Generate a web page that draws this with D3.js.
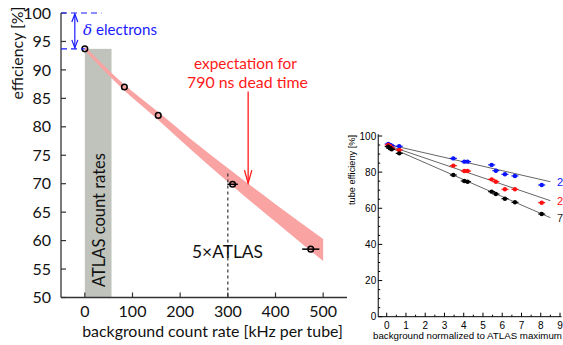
<!DOCTYPE html>
<html><head><meta charset="utf-8">
<script src="https://cdn.jsdelivr.net/npm/d3@7"></script>
<style>body{margin:0;background:#fff}svg{display:block}</style>
</head><body>
<script>
// ---------- main chart data ----------
const rate = [0, 83, 154, 310, 474];             // kHz per tube
const eff = [93.7, 87.0, 82.0, 69.9, 58.5];      // efficiency %
const rateErr = [0, 0, 0, 11, 18];
const bandX = [0, 80, 154, 220, 310, 400, 500];
const bandUpper = [94.1, 87.6, 82.6, 78.0, 72.1, 66.4, 60.3];
const bandLower = [93.4, 86.6, 81.2, 76.2, 69.6, 63.3, 56.4];
const atlasBand = [0, 56];
const atlasTop = 93.7;
const xTicks = [0, 100, 200, 300, 400, 500];
const yTicks = [50, 55, 60, 65, 70, 75, 80, 85, 90, 95, 100];

// ---------- inset data ----------
const insetX = [0.08, 0.17, 0.26, 0.65, 3.46, 4.03, 4.2, 5.45, 5.67, 6.14, 6.66, 8.05];
const insetBlue = [95.6, 95.0, 94.6, 94.3, 87.6, 85.8, 85.8, 84.0, 80.8, 78.8, 77.9, 72.9];
const insetRed = [95.0, 94.3, 93.2, 92.3, 83.6, 80.6, 80.6, 76.0, 74.7, 70.5, 70.5, 63.1];
const insetBlack = [94.1, 93.2, 92.6, 90.4, 78.4, 75.1, 74.7, 69.2, 67.9, 65.3, 63.3, 56.8];
const fitX = [0, 8.5];
const fitBlue = [95.5, 74.7];
const fitRed = [95.0, 64.2];
const fitBlack = [94.5, 54.8];
const insetXTicks = [0,1,2,3,4,5,6,7,8,9];
const insetYTicks = [0,20,40,60,80,100];
const seriesLabels = ["2", "2", "7"];

const W = 563, H = 345;
const svg = d3.select("body").append("svg").attr("width", W).attr("height", H);
const F = "Lato, 'Open Sans', sans-serif";

function fit(sel, w) {
  const L = sel.node().getComputedTextLength();
  const fs = +sel.attr("font-size");
  if (L > 0) sel.attr("font-size", fs * w / L);
  return sel;
}

// ===== MAIN =====
const x = d3.scaleLinear([-50, 550], [61, 347]);
const y = d3.scaleLinear([50, 100], [297.5, 13]);
const g = svg.append("g");

// atlas band
g.append("rect").attr("x", x(atlasBand[0])).attr("width", x(atlasBand[1]) - x(atlasBand[0]))
  .attr("y", y(atlasTop)).attr("height", y(50) - y(atlasTop)).attr("fill", "#bfc3bc");
fit(g.append("text").attr("transform", `translate(99,220) rotate(-90)`).attr("dy", "0.35em")
  .attr("text-anchor", "middle").attr("font-family", F).attr("font-size", 18).attr("fill", "#111")
  .text("ATLAS count rates"), 134);

// expectation band
const area = d3.area().x((d, i) => x(bandX[i])).y0((d, i) => y(bandLower[i])).y1((d, i) => y(bandUpper[i])).curve(d3.curveMonotoneX);
g.append("path").attr("d", area(bandX)).attr("fill", "#f9a3a3");

// dashed vertical at 300
g.append("line").attr("x1", x(300)).attr("x2", x(300)).attr("y1", y(71.8)).attr("y2", y(50))
  .attr("stroke", "#333").attr("stroke-width", 1.2).attr("stroke-dasharray", "3,3");
fit(g.append("text").attr("x", 227.5).attr("y", 252).attr("dy", "0.35em").attr("text-anchor", "middle")
  .attr("font-family", F).attr("font-size", 16).attr("fill", "#111").text("5×ATLAS"), 71);

// axes
const ax = "#333";
g.append("line").attr("x1", x(-50)).attr("x2", x(-50)).attr("y1", y(100)).attr("y2", y(50)).attr("stroke", ax).attr("stroke-width", 1.3);
g.append("line").attr("x1", x(-50)).attr("x2", x(550)).attr("y1", y(50)).attr("y2", y(50)).attr("stroke", ax).attr("stroke-width", 1.3);
yTicks.forEach(t => {
  g.append("line").attr("x1", x(-50)).attr("x2", x(-50) + 5).attr("y1", y(t)).attr("y2", y(t)).attr("stroke", ax).attr("stroke-width", 1.2);
  g.append("text").attr("x", 51).attr("y", y(t)).attr("dy", "0.35em").attr("text-anchor", "end")
    .attr("font-family", F).attr("font-size", 16).attr("fill", "#111").text(t);
});
xTicks.forEach(t => {
  g.append("line").attr("x1", x(t)).attr("x2", x(t)).attr("y1", y(50)).attr("y2", y(50) - 5).attr("stroke", ax).attr("stroke-width", 1.2);
  g.append("text").attr("x", x(t)).attr("y", 311).attr("dy", "0.35em").attr("text-anchor", "middle")
    .attr("font-family", F).attr("font-size", 16).attr("fill", "#111").text(t);
});
fit(g.append("text").attr("x", 212.5).attr("y", 331.5).attr("dy", "0.35em").attr("text-anchor", "middle")
  .attr("font-family", F).attr("font-size", 16).attr("fill", "#111").text("background count rate [kHz per tube]"), 261);
fit(g.append("text").attr("transform", "translate(17,53) rotate(-90)").attr("dy", "0.35em").attr("text-anchor", "middle")
  .attr("font-family", F).attr("font-size", 16).attr("fill", "#111").text("efficiency [%]"), 93);

// data points
rate.forEach((r, i) => {
  if (rateErr[i] > 0) g.append("line").attr("x1", x(r - rateErr[i])).attr("x2", x(r + rateErr[i]))
    .attr("y1", y(eff[i])).attr("y2", y(eff[i])).attr("stroke", "#000").attr("stroke-width", 1.5);
  g.append("circle").attr("cx", x(r)).attr("cy", y(eff[i])).attr("r", 2.8)
    .attr("fill", "none").attr("stroke", "#000").attr("stroke-width", 1.5);
});

// delta electrons annotation
const blue = "#1a1aff";
g.append("line").attr("x1", x(-50)).attr("x2", x(35)).attr("y1", y(100)).attr("y2", y(100))
  .attr("stroke", blue).attr("stroke-width", 1.2).attr("stroke-dasharray", "6,4");
g.append("line").attr("x1", x(-50)).attr("x2", x(0)).attr("y1", y(atlasTop)).attr("y2", y(atlasTop))
  .attr("stroke", blue).attr("stroke-width", 1.2).attr("stroke-dasharray", "6,4");
const ax1 = x(-21);
g.append("line").attr("x1", ax1).attr("x2", ax1).attr("y1", y(100) + 1).attr("y2", y(atlasTop) - 1).attr("stroke", blue).attr("stroke-width", 1.2);
g.append("path").attr("d", `M${ax1 - 3},${y(100) + 9}L${ax1},${y(100) + 1}L${ax1 + 3},${y(100) + 9}M${ax1 - 3},${y(atlasTop) - 9}L${ax1},${y(atlasTop) - 1}L${ax1 + 3},${y(atlasTop) - 9}`)
  .attr("fill", "none").attr("stroke", blue).attr("stroke-width", 1.2);
const dt = g.append("text").attr("x", 83).attr("y", 30).attr("dy", "0.35em").attr("font-family", F).attr("font-size", 16).attr("fill", blue);
dt.append("tspan").attr("font-style", "italic").attr("font-family", "'DejaVu Serif', serif").text("δ");
dt.append("tspan").text(" electrons");
fit(dt, 74);

// expectation annotation
const red = "#ff1a1a";
fit(g.append("text").attr("x", 245.5).attr("y", 64).attr("dy", "0.35em").attr("text-anchor", "middle")
  .attr("font-family", F).attr("font-size", 16).attr("fill", red).text("expectation for"), 103);
fit(g.append("text").attr("x", 247.5).attr("y", 82.5).attr("dy", "0.35em").attr("text-anchor", "middle")
  .attr("font-family", F).attr("font-size", 16).attr("fill", red).text("790 ns dead time"), 121);
const axr = x(342.6);
g.append("line").attr("x1", axr).attr("x2", axr).attr("y1", y(86.2)).attr("y2", y(70.1)).attr("stroke", red).attr("stroke-width", 1.3);
g.append("path").attr("d", `M${axr - 3.7},${y(70.1) - 13}L${axr},${y(70.1)}L${axr + 3.7},${y(70.1) - 13}`)
  .attr("fill", "none").attr("stroke", red).attr("stroke-width", 1.3);

// ===== INSET =====
const xi = d3.scaleLinear([0, 9], [386.7, 560]);
const yi = d3.scaleLinear([0, 100], [316.7, 136]);
const gi = svg.append("g");
const IF = "'Liberation Sans', Arial, sans-serif";
gi.append("line").attr("x1", xi(-0.44)).attr("x2", xi(-0.44)).attr("y1", yi(101)).attr("y2", yi(0)).attr("stroke", "#000").attr("stroke-width", 1);
gi.append("line").attr("x1", xi(-0.44)).attr("x2", xi(9.08)).attr("y1", yi(0)).attr("y2", yi(0)).attr("stroke", "#000").attr("stroke-width", 1);
d3.range(0, 101, 5).forEach(t => {
  const major = t % 20 === 0;
  gi.append("line").attr("x1", xi(-0.44)).attr("x2", xi(-0.44) + (major ? 4 : 2)).attr("y1", yi(t)).attr("y2", yi(t)).attr("stroke", "#000").attr("stroke-width", 1);
});
insetYTicks.forEach(t => gi.append("text").attr("x", xi(-0.44) - 2).attr("y", yi(t)).attr("dy", "0.35em").attr("text-anchor", "end")
  .attr("font-family", IF).attr("font-size", 10).attr("fill", "#000").text(t));
d3.range(0, 9.01, 0.5).forEach(t => {
  const major = Math.abs(t - Math.round(t)) < 1e-6;
  gi.append("line").attr("x1", xi(t)).attr("x2", xi(t)).attr("y1", yi(0)).attr("y2", yi(0) - (major ? 4 : 2)).attr("stroke", "#000").attr("stroke-width", 1);
});
insetXTicks.forEach(t => gi.append("text").attr("x", xi(t)).attr("y", 325).attr("dy", "0.35em").attr("text-anchor", "middle")
  .attr("font-family", IF).attr("font-size", 10).attr("fill", "#000").text(t));
fit(gi.append("text").attr("x", 467.5).attr("y", 336).attr("dy", "0.35em").attr("text-anchor", "middle")
  .attr("font-family", IF).attr("font-size", 9.3).attr("fill", "#000").text("background normalized to ATLAS maximum"), 189);
fit(gi.append("text").attr("transform", "translate(352,170) rotate(-90)").attr("dy", "0.35em").attr("text-anchor", "middle")
  .attr("font-family", IF).attr("font-size", 9.3).attr("fill", "#000").text("tube efficieny [%]"), 70);

const series = [
  { vals: insetBlue, fit: fitBlue, color: "#0a14ff" },
  { vals: insetRed, fit: fitRed, color: "#ff1010" },
  { vals: insetBlack, fit: fitBlack, color: "#000" }
];
series.forEach(s => {
  gi.append("line").attr("x1", xi(fitX[0])).attr("x2", xi(fitX[1])).attr("y1", yi(s.fit[0])).attr("y2", yi(s.fit[1]))
    .attr("stroke", "#666").attr("stroke-width", 1);
});
series.forEach((s, k) => {
  insetX.forEach((v, i) => {
    gi.append("line").attr("x1", xi(v) - 3.5).attr("x2", xi(v) + 3.5).attr("y1", yi(s.vals[i])).attr("y2", yi(s.vals[i]))
      .attr("stroke", s.color).attr("stroke-width", 1.2);
    gi.append("circle").attr("cx", xi(v)).attr("cy", yi(s.vals[i])).attr("r", 2.2).attr("fill", s.color);
  });
  gi.append("text").attr("x", 557).attr("y", yi(s.fit[1]) + 0.5).attr("dy", "0.35em")
    .attr("font-family", IF).attr("font-size", 11).attr("fill", s.color === "#000" ? "#222" : s.color).text(seriesLabels[k]);
});
</script>
</body></html>
